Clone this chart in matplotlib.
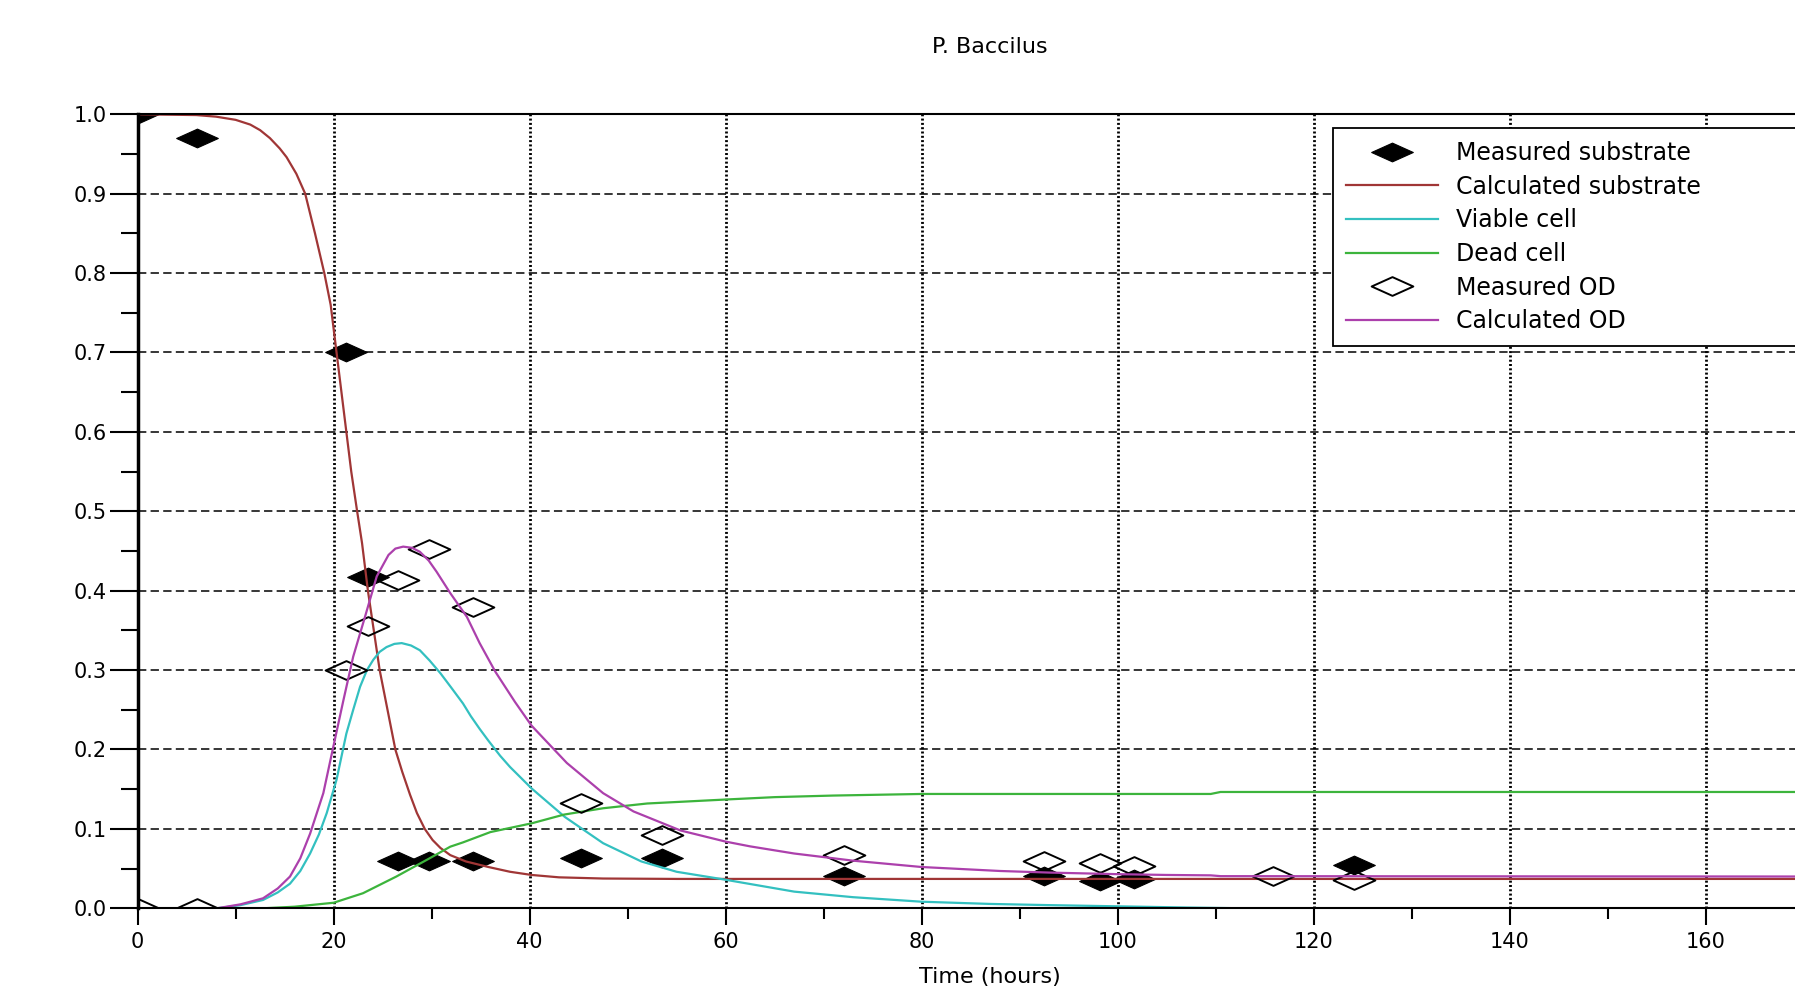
import numpy as np
import matplotlib
matplotlib.use("Agg")
import matplotlib.pyplot as plt
from matplotlib.path import Path
from matplotlib.ticker import MultipleLocator, FormatStrFormatter

# measured samples
t_meas = [0, 6.1, 21.3, 23.5, 26.6, 29.7, 34.2, 45.2, 53.5, 72.1, 92.5, 98.2, 101.7, 124.1]
s_meas = [1.0, 0.97, 0.70, 0.417, 0.059, 0.059, 0.059, 0.063, 0.063, 0.041, 0.041, 0.034, 0.037, 0.055]

t_od = [0, 6.1, 21.3, 23.5, 26.6, 29.7, 34.2, 45.2, 53.5, 72.1, 92.5, 98.2, 101.7, 115.9, 124.1]
od_meas = [0.0, 0.0, 0.30, 0.356, 0.413, 0.453, 0.38, 0.133, 0.092, 0.067, 0.059, 0.057, 0.053, 0.041, 0.036]

# calculated substrate
t_s = [0, 6, 8, 10, 11.5, 12.5, 13.5, 14.5, 15.2, 16.2, 17.1, 18.1, 19.05, 19.7, 20.3, 20.8,
       21.3, 21.8, 22.4, 22.9, 23.5, 24.1, 24.7, 25.5, 26.3, 27.0, 27.8, 28.5, 29.3, 30.1,
       30.9, 31.9, 33.5, 35.8, 38.0, 40.2, 43, 47.5, 55, 175]
s_calc = [1.0, 0.999, 0.997, 0.993, 0.987, 0.980, 0.970, 0.957, 0.946, 0.925, 0.90, 0.85, 0.80,
          0.76, 0.70, 0.65, 0.60, 0.55, 0.50, 0.46, 0.40, 0.35, 0.30, 0.25, 0.20, 0.172, 0.143,
          0.12, 0.10, 0.086, 0.076, 0.067, 0.059, 0.052, 0.046, 0.042, 0.039, 0.0375, 0.037, 0.037]

# viable cell
t_v = [0, 8.1, 10.5, 12.8, 14.3, 15.55, 16.6, 17.6, 18.5, 19.3, 20.3, 21.3, 22.0, 22.7, 23.4,
       24.05, 24.7, 25.4, 26.2, 26.95, 27.9, 28.8, 29.8, 30.9, 32.0, 33.2, 34.0, 34.9, 35.8,
       37.0, 38.0, 40.2, 43.6, 47.5, 51.4, 55.0, 59.5, 67, 73, 80, 87, 93, 100, 107, 113]
v_calc = [0, 0, 0.004, 0.0105, 0.02, 0.031, 0.047, 0.069, 0.093, 0.12, 0.162, 0.22, 0.25, 0.279,
          0.30, 0.313, 0.323, 0.329, 0.333, 0.334, 0.331, 0.325, 0.312, 0.296, 0.278, 0.258,
          0.242, 0.226, 0.211, 0.192, 0.178, 0.151, 0.115, 0.082, 0.059, 0.046, 0.037, 0.021,
          0.014, 0.0083, 0.0055, 0.004, 0.0025, 0.001, 0.0]

# dead cell
t_d = [0, 12.8, 16, 20, 23.0, 26.4, 29.8, 31.9, 33.2, 36, 40.2, 43.5, 47.5, 52, 60, 65, 71, 80,
       109.5, 110.5, 175]
d_calc = [0, 0, 0.002, 0.007, 0.019, 0.040, 0.063, 0.0776, 0.083, 0.096, 0.107, 0.118, 0.126,
          0.132, 0.137, 0.140, 0.142, 0.144, 0.144, 0.1465, 0.1465]

# calculated OD
t_o = [0, 8.1, 10.5, 12.8, 14.3, 15.55, 16.6, 17.6, 18.95, 19.97, 21.0, 22.0, 23.2, 24.4, 25.6,
       26.3, 27.1, 28.0, 28.8, 29.7, 30.5, 31.9, 33.6, 34.9, 36.5, 38.5, 40.2, 43.8, 47.5, 50.6,
       55.4, 60, 62.5, 67, 73, 80, 88, 93, 100, 105, 109.5, 110.5, 175]
od_calc = [0, 0, 0.005, 0.0126, 0.025, 0.040, 0.063, 0.094, 0.145, 0.2035, 0.262, 0.317, 0.367,
           0.418, 0.445, 0.453, 0.4555, 0.454, 0.449, 0.438, 0.424, 0.397, 0.367, 0.334, 0.298,
           0.26, 0.23, 0.183, 0.145, 0.122, 0.098, 0.084, 0.078, 0.069, 0.060, 0.052, 0.047,
           0.045, 0.043, 0.042, 0.0415, 0.0405, 0.040]

# flat diamond marker (the source picture is stretched sideways)
diamond = Path([(-1, 0), (0, 0.45), (1, 0), (0, -0.45), (-1, 0)],
               [Path.MOVETO, Path.LINETO, Path.LINETO, Path.LINETO, Path.CLOSEPOLY])

fig = plt.figure(figsize=(17.95, 9.86), dpi=100)
ax = fig.add_axes([0.07666, 0.0788, 0.950, 0.8053])

ax.plot(t_meas, s_meas, ls='none', marker=diamond, ms=30, mfc='k', mec='k', mew=0.8,
        label='Measured substrate')
ax.plot(t_s, s_calc, color='#a03636', lw=1.6, label='Calculated substrate')
ax.plot(t_v, v_calc, color='#33c0c0', lw=1.6, label='Viable cell')
ax.plot(t_d, d_calc, color='#3cb43c', lw=1.6, label='Dead cell')
ax.plot(t_od, od_meas, ls='none', marker=diamond, ms=30, mfc='none', mec='k', mew=1.4,
        label='Measured OD')
ax.plot(t_o, od_calc, color='#ac40ac', lw=1.6, label='Calculated OD')

ax.set_xlim(0, 174)
ax.set_ylim(0, 1)
ax.xaxis.set_major_locator(MultipleLocator(20))
ax.xaxis.set_minor_locator(MultipleLocator(10))
ax.yaxis.set_major_locator(MultipleLocator(0.1))
ax.yaxis.set_minor_locator(MultipleLocator(0.05))
ax.yaxis.set_major_formatter(FormatStrFormatter('%.1f'))

ax.tick_params(axis='x', which='major', direction='out', length=12, width=1.5, pad=5, labelsize=15)
ax.tick_params(axis='x', which='minor', direction='out', length=8, width=1.5)
ax.tick_params(axis='y', which='major', direction='out', length=20, width=1.5, pad=2, labelsize=15)
ax.tick_params(axis='y', which='minor', direction='out', length=12, width=1.5)

ax.xaxis.grid(True, which='major', color='k', lw=2.0, ls=(0, (0.72, 0.83)))
ax.yaxis.grid(True, which='major', color='k', lw=1.1, ls=(0, (5.45, 2.8)))

ax.spines['left'].set_linewidth(2.5)
ax.spines['bottom'].set_linewidth(1.5)
ax.spines['top'].set_linewidth(1.5)

ax.set_title('P. Baccilus', fontsize=16, pad=44)
ax.set_xlabel('Time (hours)', fontsize=16, labelpad=11)

leg = ax.legend(loc='upper left', bbox_to_anchor=(0.7426, 0.5702, 0.40, 0.30),
                bbox_transform=fig.transFigure, mode='expand', borderaxespad=0,
                fontsize=17, numpoints=1, handlelength=3.9, handletextpad=0.76,
                borderpad=0.55, labelspacing=0.41, fancybox=False, framealpha=1)
leg.get_frame().set_edgecolor('k')
leg.get_frame().set_linewidth(1.3)

fig.savefig('out.png', dpi=100)
